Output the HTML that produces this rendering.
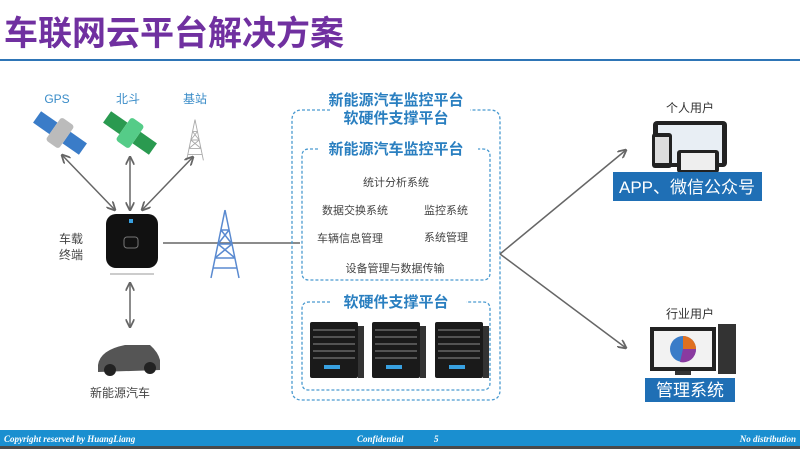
<!DOCTYPE html>
<html><head><meta charset="utf-8"><style>
body{margin:0;width:800px;height:449px;overflow:hidden;background:#fff;font-family:"Liberation Sans","Noto Sans CJK SC",sans-serif}
</style></head><body>
<svg width="800" height="449" viewBox="0 0 800 449" xmlns="http://www.w3.org/2000/svg" font-family="Liberation Sans, Noto Sans CJK SC, sans-serif">
<defs>
<marker id="a" viewBox="0 0 10 10" refX="9" refY="5" markerWidth="6" markerHeight="6" orient="auto-start-reverse"><path d="M0,0 L10,5 L0,10" fill="none" stroke="#666" stroke-width="2"/></marker>
<g id="srv"><rect x="0" y="0" width="48" height="56" rx="2" fill="#1a1a1a"/><rect x="48" y="4" width="6" height="52" fill="#333"/>
<g stroke="#666" stroke-width="1.5"><line x1="3" y1="8" x2="45" y2="8"/><line x1="3" y1="15" x2="45" y2="15"/><line x1="3" y1="22" x2="45" y2="22"/><line x1="3" y1="29" x2="45" y2="29"/><line x1="3" y1="36" x2="45" y2="36"/></g>
<rect x="14" y="43" width="16" height="4" fill="#38a0e0"/></g>
<g id="tw"><path d="M0,-34 L-14,34 M0,-34 L14,34 M-4,-14 L4,-14 M-7,0 L7,0 M-10,14 L10,14 M-12,24 L12,24 M-4,-14 L7,0 M4,-14 L-7,0 M-7,0 L10,14 M7,0 L-10,14" fill="none" stroke-width="1.5"/></g>
</defs>
<text x="4" y="45" font-size="34" font-weight="bold" fill="#7030a0">车联网云平台解决方案</text>
<rect x="0" y="59" width="800" height="2" fill="#2e75b6"/>
<g font-size="12" fill="#3a8cc8" text-anchor="middle"><text x="57" y="103">GPS</text><text x="128" y="103">北斗</text><text x="195" y="103">基站</text></g>
<g transform="translate(60,133) rotate(35)"><rect x="-28" y="-7" width="20" height="14" fill="#3a7cc8"/><rect x="8" y="-7" width="20" height="14" fill="#3a7cc8"/><rect x="-8" y="-14" width="16" height="28" rx="3" fill="#bbb"/></g>
<g transform="translate(130,133) rotate(35)"><rect x="-28" y="-7" width="20" height="14" fill="#2a9a50"/><rect x="8" y="-7" width="20" height="14" fill="#2a9a50"/><rect x="-8" y="-14" width="16" height="28" rx="3" fill="#5c8"/></g>
<use href="#tw" transform="translate(195,140) scale(0.6)" stroke="#aaa"/>
<g stroke="#666" stroke-width="1.5" marker-start="url(#a)" marker-end="url(#a)">
<line x1="62" y1="155" x2="115" y2="210"/><line x1="130" y1="157" x2="130" y2="210"/><line x1="193" y1="157" x2="142" y2="210"/><line x1="130" y1="283" x2="130" y2="327"/></g>
<rect x="106" y="214" width="52" height="54" rx="10" fill="#111"/><rect x="129" y="219" width="4" height="4" fill="#38a0e0"/><rect x="124" y="237" width="14" height="11" rx="3" fill="none" stroke="#777"/>
<rect x="110" y="273" width="44" height="2" fill="#ccc"/>
<g font-size="12" fill="#444" text-anchor="middle"><text x="71" y="243">车载</text><text x="71" y="259">终端</text><text x="120" y="397">新能源汽车</text></g>
<path d="M98,365 Q100,350 125,345 L150,345 Q158,352 160,360 L160,370 L98,372 Z" fill="#555"/><circle cx="110" cy="370" r="6" fill="#222"/><circle cx="150" cy="368" r="6" fill="#222"/>
<line x1="163" y1="243" x2="300" y2="243" stroke="#666" stroke-width="1.5"/>
<use href="#tw" transform="translate(225,244)" stroke="#5a8ad0"/>
<g fill="none" stroke="#4a9ad0" stroke-width="1.3" stroke-dasharray="3,2">
<path d="M330,110 L302,110 Q292,110 292,120 L292,390 Q292,400 302,400 L490,400 Q500,400 500,390 L500,120 Q500,110 490,110 L470,110"/>
<path d="M318,149 L309,149 Q302,149 302,156 L302,273 Q302,280 309,280 L483,280 Q490,280 490,273 L490,156 Q490,149 483,149 L478,149"/>
<path d="M330,302 L309,302 Q302,302 302,309 L302,383 Q302,390 309,390 L483,390 Q490,390 490,383 L490,309 Q490,302 483,302 L466,302"/></g>
<g font-size="15" font-weight="bold" fill="#2a7fc0" text-anchor="middle"><text x="396" y="105">新能源汽车监控平台</text><text x="396" y="123">软硬件支撑平台</text><text x="396" y="154">新能源汽车监控平台</text><text x="396" y="307">软硬件支撑平台</text></g>
<g font-size="11" fill="#444" text-anchor="middle"><text x="396" y="186">统计分析系统</text><text x="355" y="214">数据交换系统</text><text x="446" y="214">监控系统</text><text x="350" y="242">车辆信息管理</text><text x="446" y="241">系统管理</text><text x="395" y="272">设备管理与数据传输</text></g>
<use href="#srv" x="310" y="322"/><use href="#srv" x="372" y="322"/><use href="#srv" x="435" y="322"/>
<g stroke="#666" stroke-width="1.5" marker-end="url(#a)"><line x1="500" y1="254" x2="626" y2="150"/><line x1="500" y1="254" x2="626" y2="348"/></g>
<g font-size="12" fill="#333" text-anchor="middle"><text x="690" y="112">个人用户</text><text x="690" y="318">行业用户</text></g>
<rect x="653" y="121" width="74" height="46" rx="4" fill="#222"/><rect x="658" y="125" width="64" height="38" fill="#e8eef4"/>
<rect x="652" y="133" width="20" height="35" rx="3" fill="#222"/><rect x="655" y="137" width="14" height="26" fill="#ddd"/>
<rect x="677" y="150" width="42" height="23" rx="3" fill="#222"/><rect x="681" y="153" width="34" height="17" fill="#eee"/>
<rect x="613" y="172" width="149" height="29" fill="#1f6fb5"/><text x="687" y="193" font-size="17" fill="#fff" text-anchor="middle">APP、微信公众号</text>
<rect x="650" y="327" width="66" height="44" fill="#222"/><rect x="654" y="331" width="58" height="36" fill="#f2f2f2"/>
<circle cx="683" cy="349" r="13" fill="#3a7cc8"/><path d="M683,349 L683,336 A13,13 0 0,1 696,349 Z" fill="#e07020"/><path d="M683,349 L696,349 A13,13 0 0,1 680,362 Z" fill="#8a3aa0"/>
<rect x="675" y="371" width="16" height="4" fill="#333"/><rect x="718" y="324" width="18" height="50" fill="#333"/>
<rect x="645" y="378" width="90" height="24" fill="#1f6fb5"/><text x="690" y="396" font-size="17" fill="#fff" text-anchor="middle">管理系统</text>
<rect x="0" y="430" width="800" height="16" fill="#1a8fd0"/><rect x="0" y="446" width="800" height="3" fill="#4a4a4a"/>
<g font-family="Liberation Serif, serif" font-style="italic" font-weight="bold" font-size="9" fill="#fff"><text x="4" y="442">Copyright reserved by HuangLiang</text><text x="357" y="442">Confidential</text><text x="434" y="442">5</text><text x="796" y="442" text-anchor="end">No distribution</text></g>
</svg>
</body></html>
